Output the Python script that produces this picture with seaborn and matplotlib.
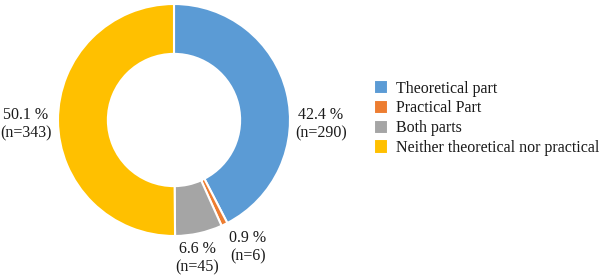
import matplotlib
matplotlib.use("Agg")
import matplotlib.pyplot as plt
import seaborn as sns

# data
categories = ["Theoretical part", "Practical Part", "Both parts", "Neither theoretical nor practical"]
counts = [290, 6, 45, 343]
percents = [42.4, 0.9, 6.6, 50.1]
colors = ["#5B9BD5", "#ED7D31", "#A5A5A5", "#FFC000"]

sns.set_theme(style="white")
plt.rcParams["font.family"] = ["Liberation Serif", "DejaVu Serif"]

fig = plt.figure(figsize=(6, 2.76), dpi=100)
# donut centre ~(174,120) px, outer radius ~116 px
ax = fig.add_axes([58 / 600, 40 / 276, 232 / 600, 232 / 276])

wedges, _ = ax.pie(counts, colors=colors, startangle=90, counterclock=False,
                   wedgeprops=dict(width=0.43, edgecolor="white", linewidth=1.5))
ax.set_aspect("equal")
ax.set_xlim(-1, 1)
ax.set_ylim(-1, 1)

# LABELS (pixel positions)
label_pos = [(321, 124), (248, 247), (197, 258), (26, 124)]
for (px, py), p, n in zip(label_pos, percents, counts):
    fig.text(px / 600, 1 - py / 276, f"{p} %\n(n={n})", ha="center", va="center",
             fontsize=11.5, color="#1a1a1a", linespacing=1.15)

fig.legend(wedges, categories, loc="center left", bbox_to_anchor=(374 / 600, 1 - 118 / 276),
           frameon=False, fontsize=11.5, handlelength=0.9, handleheight=1.0,
           handletextpad=0.5, labelspacing=0.2, borderpad=0, borderaxespad=0,
           labelcolor="#1a1a1a")

fig.savefig("out.png", dpi=100)
